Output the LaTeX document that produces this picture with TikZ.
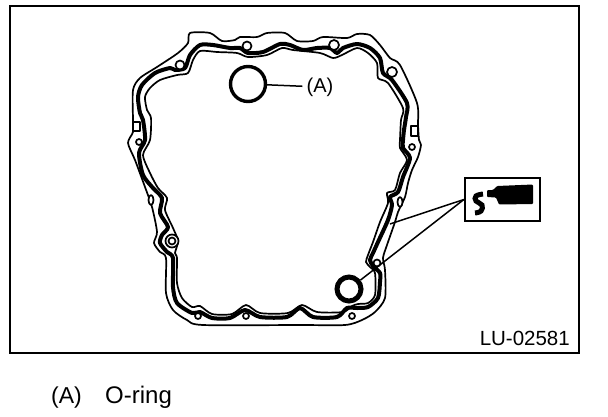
\documentclass[tikz,border=0pt]{standalone}
\usepackage{fontspec}
\setmainfont{Liberation Sans}
\usepackage{tikz}
\usetikzlibrary{calc}
\tikzset{
    thinline/.style={line width=1.7pt, line join=round},
    beadline/.style={line width=4pt, line join=round},
    leaderline/.style={line width=1.5pt},
    oring/.style={draw, circle, inner sep=0pt},
}

\begin{document}
\begin{tikzpicture}[x=1pt,y=-1pt]
    \useasboundingbox (0,0) rectangle (608,416);
    % Frame
    \draw[line width=2.2pt] (10,6) rectangle (579,353);

    % Gasket outline
    \draw[thinline] plot[smooth cycle, tension=0.45] coordinates {
        (190,33) (210,33) (222,41) (235,40) (240,37) (257,37) (267,33) (285,33) (297,41) (313,41)
        (323,37) (347,38) (357,34) (370,35) (380,45) (390,58) (400,65) (417,103) (418,125) (419,140)
        (421,145) (418,157) (412,170) (408,183) (405,197) (398,212) (395,222) (387,245) (383,258)
        (385,270) (385,298) (375,312) (362,320) (345,325) (300,325) (203,325) (187,320) (173,310)
        (166,293) (166,258) (160,252) (154,243) (157,232) (152,207) (145,187) (135,160) (128,143)
        (133,132) (133,120) (133,90) (140,78) (157,67) (178,53) (188,43)
    };

    % Sealing bead
    \draw[beadline] plot[smooth cycle, tension=0.45] coordinates {
        (200,45) (213,45) (230,48) (240,48) (248,53) (263,52) (280,44) (290,45) (303,50) (317,48)
        (330,48) (337,53) (343,48) (357,44) (370,48) (380,58) (383,73) (392,80) (407,103) (406,117)
        (404,130) (403,140) (403,148) (410,158) (403,177) (398,192) (390,197) (392,205) (388,220)
        (378,242) (373,253) (370,260) (373,266) (380,273) (380,282) (378,298) (368,307) (357,308)
        (347,308) (337,317) (313,317) (300,308) (287,317) (260,317) (245,310) (230,318) (212,318)
        (200,312) (192,313) (177,303) (173,287) (173,258) (167,252) (160,243) (162,235) (168,227)
        (160,213) (162,198) (153,188) (143,175) (139,153) (145,140) (143,120) (140,113) (138,97)
        (142,85) (155,73) (170,68) (175,70) (185,68) (190,55)
    };

    % Inner line
    \draw[thinline] plot[smooth cycle, tension=0.45] coordinates {
        (200,51) (217,52) (237,53) (248,57) (267,55) (282,48) (293,50) (320,53) (333,58) (342,55)
        (357,48) (368,53) (377,63) (378,78) (388,83) (403,108) (401,120) (400,140) (400,148) (407,160)
        (400,173) (395,190) (387,193) (388,203) (380,222) (373,242) (368,255) (366,262) (370,267)
        (375,273) (375,295) (368,303) (358,304) (352,306) (343,312) (317,312) (302,305) (288,313)
        (260,313) (246,305) (232,314) (212,314) (200,306) (192,307) (182,298) (177,283) (177,258)
        (175,253) (178,241) (173,228) (165,210) (167,198) (158,188) (150,173) (143,155) (150,140)
        (151,118) (147,110) (145,97) (150,88) (160,80) (177,75) (188,73) (193,60)
    };

    % Bolt holes
    \foreach \hx/\hy/\hr in {180/65/4.5, 247/46/4.5, 334/45/5, 392/72/5, 139/142/3, 412/147/3,
        198/316/3, 246/316/3, 352/316/3, 377/263/3.5} {
        \draw[thinline, fill=white] (\hx,\hy) circle (\hr);
    }
    \draw[thinline, fill=white] (172,241) circle (6.5);
    \draw[thinline] (172,241) circle (3.5);
    \draw[thinline, fill=white] (151,200) ellipse (2.5 and 5);
    \draw[thinline, fill=white] (400,202) ellipse (2.5 and 5);

    % Tabs
    \draw[thinline, fill=white] (133,122) rectangle (140,131);
    \draw[thinline, fill=white] (411,126) rectangle (418,136);

    % O-rings
    \node[oring, line width=3.4pt, minimum size=35pt] (ringtop) at (248,84) {};
    \node[oring, line width=5pt, minimum size=24pt, fill=white] (ringlow) at (349,289) {};

    % Labels
    \node[font=\fontsize{20}{20}\selectfont, inner sep=4pt] (labelA) at (320,87) {(A)};
    \draw[leaderline] (ringtop) -- (labelA);

    % Sealant box
    \node[draw, line width=2.2pt, minimum width=75pt, minimum height=43pt, inner sep=0pt] (toolbox) at (502.5,199.5) {};
    \coordinate (sealpoint) at (390,224);
    \draw[leaderline] (toolbox.west) -- (sealpoint);
    \draw[leaderline] (toolbox.west) -- (ringlow);
    \fill[rounded corners=1pt] (487,190) -- (493,190) -- (497,186) -- (533,184.5) -- (533,204) -- (499,204.5) -- (496,197.5) -- (487,197) -- cycle;
    \draw[line width=5pt] plot[smooth, tension=0.7] coordinates {(483,194) (476,196) (476,201) (482,205) (481,211) (475,213)};

    % Drawing number and caption
    \node[anchor=base east, font=\fontsize{20.5}{20.5}\selectfont, inner sep=0pt] (drawno) at (570,345) {LU-02581};
    \node[anchor=base west, font=\fontsize{23}{23}\selectfont, inner sep=0pt] (captionkey) at (51,403) {(A)};
    \node[anchor=base west, font=\fontsize{24}{24}\selectfont, inner sep=0pt] (captiontext) at (105,403) {O-ring};
\end{tikzpicture}
\end{document}
